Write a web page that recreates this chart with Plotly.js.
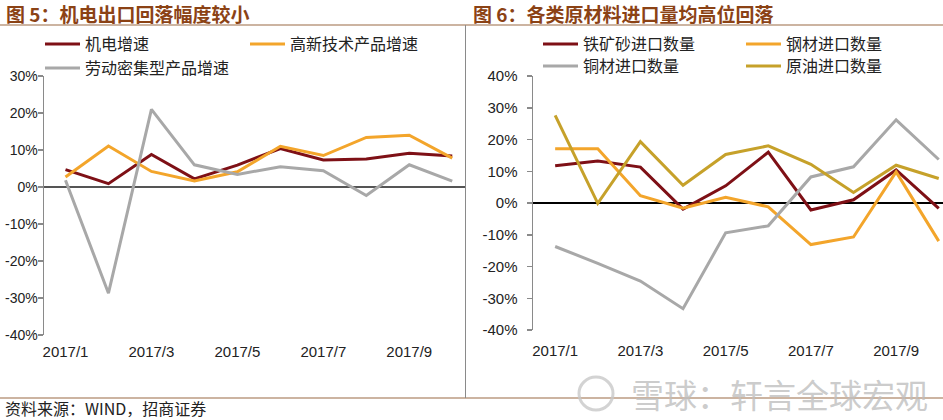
<!DOCTYPE html>
<html>
<head>
<meta charset="utf-8">
<script src="https://cdn.plot.ly/plotly-3.0.1.min.js"></script>
<style>
html,body{margin:0;padding:0;background:#fff;}
#chart{width:943px;height:420px;}
</style>
</head>
<body>
<div id="chart"></div>
<script>
// ---- data ----
const months = ["2017/1","2017/2","2017/3","2017/4","2017/5","2017/6","2017/7","2017/8","2017/9","2017/10"];
const xTickVals = ["2017/1","2017/3","2017/5","2017/7","2017/9"];

// Figure 5 (%, yoy)
const mechElec  = [4.7, 0.9, 8.8, 2.2, 5.9, 10.4, 7.3, 7.6, 9.1, 8.4];
const hiTech    = [2.7, 11.1, 4.2, 1.6, 4.1, 11.0, 8.5, 13.4, 14.0, 7.8];
const laborInt  = [1.8, -28.7, 21.0, 6.0, 3.4, 5.5, 4.4, -2.3, 6.0, 1.6];

// Figure 6 (%, yoy)
const ironOre   = [11.7, 13.2, 11.3, -1.9, 5.4, 16.0, -2.2, 1.0, 10.4, -1.7];
const steel     = [17.1, 17.1, 2.3, -1.6, 1.8, -1.2, -13.1, -10.7, 9.8, -12.0];
const copper    = [-13.7, -19.0, -24.6, -33.3, -9.4, -7.2, 8.2, 11.4, 26.2, 13.7];
const crudeOil  = [27.6, -0.1, 19.3, 5.6, 15.3, 18.0, 12.2, 3.3, 11.9, 7.7];

const yTickVals1 = [30, 20, 10, 0, -10, -20, -30, -40];
const yTickText1 = ["30%", "20%", "10%", "0%", "-10%", "-20%", "-30%", "-40%"];
const yTickVals2 = [40, 30, 20, 10, 0, -10, -20, -30, -40];
const yTickText2 = ["40%", "30%", "20%", "10%", "0%", "-10%", "-20%", "-30%", "-40%"];

const names1 = ["机电增速", "高新技术产品增速", "劳动密集型产品增速"];
const names2 = ["铁矿砂进口数量", "钢材进口数量", "铜材进口数量", "原油进口数量"];

const titleLeft  = "图 5：机电出口回落幅度较小";
const titleRight = "图 6：各类原材料进口量均高位回落";
const sourceText = "资料来源：WIND，招商证券";
const watermark  = "雪球：轩言全球宏观";

// ---- styling ----
const W = 943, H = 420;
const px = v => v / W;
const py = v => 1 - v / H;

const C_RED = "#7E1016", C_ORANGE = "#F3A52B", C_GRAY = "#A8A8A8", C_OLIVE = "#C6A12A";
const LW = 3;

function tr(y, name, color, xa, ya, leg) {
  return {x: months, y: y, name: name, type: "scatter", mode: "lines",
          line: {color: color, width: LW}, xaxis: xa, yaxis: ya, legend: leg};
}

const data = [
  tr(mechElec, names1[0], C_RED, "x", "y", "legend"),
  tr(hiTech, names1[1], C_ORANGE, "x", "y", "legend2"),
  tr(laborInt, names1[2], C_GRAY, "x", "y", "legend3"),
  tr(ironOre, names2[0], C_RED, "x2", "y2", "legend4"),
  tr(steel, names2[1], C_ORANGE, "x2", "y2", "legend5"),
  tr(copper, names2[2], C_GRAY, "x2", "y2", "legend6"),
  tr(crudeOil, names2[3], C_OLIVE, "x2", "y2", "legend7")
];

const tickFont = {family: "Liberation Sans, Arial, sans-serif", size: 15, color: "#222"};
const legFont = {family: "Noto Sans CJK SC, sans-serif", size: 16, color: "#222"};

function xAxis(domain, range, stand) {
  return {domain: domain, type: "category", range: range, tickvals: xTickVals,
          showgrid: false, zeroline: false, showline: false, ticks: "",
          tickfont: tickFont, ticklabelstandoff: stand, fixedrange: true};
}
function yAxis(domain, range, vals, text, anchor, zlc, fsize, stand) {
  return {domain: domain, range: range, anchor: anchor, tickvals: vals, ticktext: text,
          showgrid: false, showline: true, linecolor: "#8a8a8a", linewidth: 1.5,
          ticks: "outside", ticklen: 5, tickcolor: "#8a8a8a", tickwidth: 1.5,
          zeroline: true, zerolinecolor: zlc, zerolinewidth: 1.2,
          tickfont: Object.assign({}, tickFont, {size: fsize}),
          ticklabelstandoff: stand, fixedrange: true};
}

function legend(x, yc) {
  return {orientation: "v", x: px(x), y: py(yc), xanchor: "left", yanchor: "middle",
          font: legFont, bgcolor: "rgba(0,0,0,0)", borderwidth: 0, itemwidth: 35};
}

const layout = {
  width: W, height: H,
  margin: {l: 0, r: 0, t: 0, b: 0},
  paper_bgcolor: "#fff", plot_bgcolor: "rgba(0,0,0,0)",
  showlegend: true,
  xaxis:  xAxis([px(44), px(466)], [-0.5, 9.32], 6),
  yaxis:  yAxis([1 - 335 / H, 1 - 76 / H], [-40, 30], yTickVals1, yTickText1, "x", "#555", 14, -3),
  xaxis2: xAxis([px(533), 1], [-0.52, 9.1], 5),
  yaxis2: yAxis([1 - 330 / H, 1 - 76 / H], [-40, 40], yTickVals2, yTickText2, "x2", "#000", 15, 6),
  legend:  legend(40, 44),
  legend2: legend(245, 44),
  legend3: legend(40, 68),
  legend4: legend(538, 44),
  legend5: legend(741, 44),
  legend6: legend(538, 66),
  legend7: legend(741, 66),
  shapes: [
    {type: "line", xref: "paper", yref: "paper", x0: 0, x1: 1, y0: py(25), y1: py(25),
     line: {color: "#9a6a45", width: 1.2}},
    {type: "line", xref: "paper", yref: "paper", x0: 0, x1: 1, y0: py(398), y1: py(398),
     line: {color: "#9a6a45", width: 1.2}},
    {type: "line", xref: "paper", yref: "paper", x0: px(465.5), x1: px(465.5), y0: py(25), y1: py(398),
     line: {color: "#8a8a8a", width: 1}},
    {type: "circle", xref: "paper", yref: "paper", x0: px(579), x1: px(613), y0: py(410), y1: py(377),
     line: {color: "rgba(200,200,200,0.8)", width: 3}}
  ],
  annotations: [
    {text: titleLeft, xref: "paper", yref: "paper", x: px(4), y: py(13), xanchor: "left", yanchor: "middle",
     showarrow: false, font: {family: "Noto Sans CJK SC, sans-serif", size: 19, color: "#8B4215", weight: "bold"}},
    {text: titleRight, xref: "paper", yref: "paper", x: px(471), y: py(13), xanchor: "left", yanchor: "middle",
     showarrow: false, font: {family: "Noto Sans CJK SC, sans-serif", size: 19, color: "#8B4215", weight: "bold"}},
    {text: sourceText, xref: "paper", yref: "paper", x: px(4), y: py(408), xanchor: "left", yanchor: "middle",
     showarrow: false, borderpad: 0, font: {family: "Noto Sans CJK SC, sans-serif", size: 16, color: "#222"}},
    {text: watermark, xref: "paper", yref: "paper", x: px(930), y: py(394), xanchor: "right", yanchor: "middle",
     showarrow: false, font: {family: "Noto Sans CJK SC, sans-serif", size: 33, color: "rgba(190,190,190,0.8)"}}
  ]
};

Plotly.newPlot("chart", data, layout, {staticPlot: true, displayModeBar: false});
</script>
</body>
</html>
